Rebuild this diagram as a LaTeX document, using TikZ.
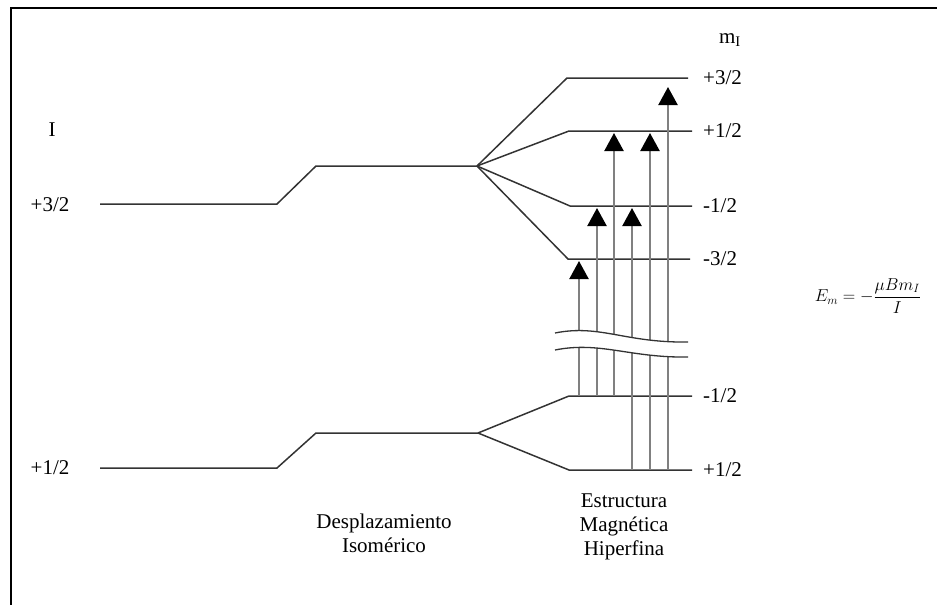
\documentclass[tikz,border=0pt]{standalone}
\usepackage{fontspec}
\setmainfont{Liberation Serif}
\usepackage{amsmath}
\usetikzlibrary{arrows.meta}

\begin{document}
\begin{tikzpicture}[
    x=1pt, y=-1pt,
    every node/.style={font=\fontsize{21}{24}\selectfont, inner sep=0pt},
    level/.style={draw=black!80, line width=1.5pt},
    trans/.style={draw=black!50, line width=2.2pt,
      -{Triangle[width=19pt, length=18pt, color=black]}},
  ]
  \useasboundingbox (0,0) rectangle (937,605);
  \draw[line width=2pt] (11,605) -- (11,8) -- (937,8);

  % spin labels
  \node (spin) at (52,130) {I};
  \node (Ihi) at (50,205) {+3/2};
  \node (Ilo) at (50,468) {+1/2};
  \node (mI) at (730,40) {m\textsubscript{I}};

  \node[anchor=west] (u32) at (703,78) {+3/2};
  \node[anchor=west] (u12) at (703,131) {+1/2};
  \node[anchor=west] (um12) at (703,206) {-1/2};
  \node[anchor=west] (um32) at (703,259) {-3/2};
  \node[anchor=west] (gm12) at (703,396) {-1/2};
  \node[anchor=west] (g12) at (703,470) {+1/2};

  % isomer shift
  \coordinate (us) at (477,166);
  \coordinate (gs) at (478,433);
  \draw[level] (100,204) -- (277,204) -- (316,166) -- (us);
  \draw[level] (100,468) -- (277,468) -- (316,433) -- (gs);

  % magnetic splitting
  \draw[level] (us) -- (567,78) -- ([xshift=-15pt]u32.west);
  \draw[level] (us) -- (569,131) -- ([xshift=-11pt]u12.west);
  \draw[level] (us) -- (570,206) -- ([xshift=-11pt]um12.west);
  \draw[level] (us) -- (568,259) -- ([xshift=-13pt]um32.west);
  \draw[level] (gs) -- (569,396) -- ([xshift=-11pt]gm12.west);
  \draw[level] (gs) -- (569,470) -- ([xshift=-11pt]g12.west);

  \draw[trans, shorten >=2pt] (579,0 |- gm12) -- (579,0 |- um32);
  \draw[trans, shorten >=2pt] (597,0 |- gm12) -- (597,0 |- um12);
  \draw[trans, shorten >=2pt] (614,0 |- gm12) -- (614,0 |- u12);
  \draw[trans, shorten >=2pt] (632,0 |- g12) -- (632,0 |- um12);
  \draw[trans, shorten >=2pt] (650,0 |- g12) -- (650,0 |- u12);
  \draw[trans, shorten >=9pt] (668,0 |- g12) -- (668,0 |- u32);

  % break
  \fill[white] (555,333) .. controls (600,324) and (625,343) .. (688,342)
    -- (688,357) .. controls (630,358) and (600,341) .. (555,350) -- cycle;
  \draw[level, line width=1.3pt] (555,333) .. controls (600,324) and (625,343) .. (688,342);
  \draw[level, line width=1.3pt] (555,350) .. controls (600,341) and (630,358) .. (688,357);

  \node[align=center] (iso) at (384,533) {Desplazamiento\\Isomérico};
  \node[align=center] (hf) at (624,527) {Estructura\\Magnética\\Hiperfina};

  \node[font=\fontsize{18}{21}\selectfont] (eq) at (868,296)
    {$E_m = -\dfrac{\mu B m_I}{I}$};
\end{tikzpicture}
\end{document}
